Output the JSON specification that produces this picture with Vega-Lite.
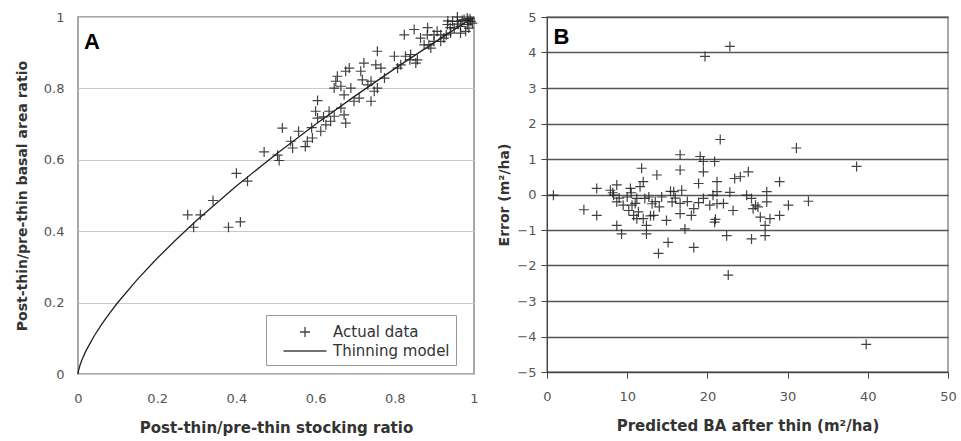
{
  "$schema": "https://vega.github.io/schema/vega-lite/v6.json",
  "background": "white",
  "padding": {"left": 14, "top": 8, "right": 2, "bottom": 4},
  "spacing": 16,
  "resolve": {"scale": {"shape": "independent"}, "legend": {"shape": "independent"}},
  "config": {
    "font": "DejaVu Sans",
    "view": {"stroke": "#8c8c8c", "strokeWidth": 1.5},
    "axis": {
      "labelFont": "DejaVu Sans", "labelFontSize": 13, "labelColor": "#555", "labelFlush": false,
      "titleFont": "DejaVu Sans", "titleFontSize": 14, "titleFontWeight": "bold", "titleColor": "#333",
      "ticks": false, "domain": false
    }
  },
  "datasets": {
    "model": [
      {"x": 0, "y": 0}, {"x": 0.001, "y": 0.0079}, {"x": 0.005, "y": 0.0245}, {"x": 0.01, "y": 0.0398},
      {"x": 0.02, "y": 0.0647}, {"x": 0.04, "y": 0.1051}, {"x": 0.06, "y": 0.1395}, {"x": 0.08, "y": 0.1707},
      {"x": 0.1, "y": 0.1995}, {"x": 0.15, "y": 0.265}, {"x": 0.2, "y": 0.3241}, {"x": 0.25, "y": 0.3789},
      {"x": 0.3, "y": 0.4305}, {"x": 0.4, "y": 0.5266}, {"x": 0.5, "y": 0.6156}, {"x": 0.6, "y": 0.6994},
      {"x": 0.7, "y": 0.7791}, {"x": 0.8, "y": 0.8554}, {"x": 0.9, "y": 0.9289}, {"x": 1.0, "y": 1.0}
    ],
    "actualA": [
      {"x": 0.277, "y": 0.446}, {"x": 0.309, "y": 0.446}, {"x": 0.292, "y": 0.411}, {"x": 0.341, "y": 0.486},
      {"x": 0.38, "y": 0.411}, {"x": 0.41, "y": 0.426}, {"x": 0.4, "y": 0.562}, {"x": 0.428, "y": 0.54},
      {"x": 0.47, "y": 0.622}, {"x": 0.504, "y": 0.613}, {"x": 0.508, "y": 0.598}, {"x": 0.516, "y": 0.689},
      {"x": 0.542, "y": 0.633}, {"x": 0.557, "y": 0.68}, {"x": 0.574, "y": 0.637}, {"x": 0.592, "y": 0.661},
      {"x": 0.605, "y": 0.766}, {"x": 0.6, "y": 0.736}, {"x": 0.613, "y": 0.68}, {"x": 0.626, "y": 0.698},
      {"x": 0.634, "y": 0.736}, {"x": 0.655, "y": 0.834}, {"x": 0.676, "y": 0.848}, {"x": 0.664, "y": 0.806},
      {"x": 0.672, "y": 0.726}, {"x": 0.676, "y": 0.703}, {"x": 0.689, "y": 0.801}, {"x": 0.714, "y": 0.848},
      {"x": 0.722, "y": 0.871}, {"x": 0.697, "y": 0.764}, {"x": 0.71, "y": 0.773}, {"x": 0.74, "y": 0.764},
      {"x": 0.756, "y": 0.904}, {"x": 0.756, "y": 0.801}, {"x": 0.765, "y": 0.857}, {"x": 0.74, "y": 0.82},
      {"x": 0.799, "y": 0.89}, {"x": 0.807, "y": 0.857}, {"x": 0.824, "y": 0.95}, {"x": 0.849, "y": 0.965},
      {"x": 0.853, "y": 0.871}, {"x": 0.84, "y": 0.895}, {"x": 0.865, "y": 0.941}, {"x": 0.886, "y": 0.922},
      {"x": 0.899, "y": 0.95}, {"x": 0.891, "y": 0.913}, {"x": 0.916, "y": 0.932}, {"x": 0.907, "y": 0.96},
      {"x": 0.933, "y": 0.979}, {"x": 0.941, "y": 0.955}, {"x": 0.958, "y": 0.988}, {"x": 0.966, "y": 0.974},
      {"x": 0.975, "y": 0.993}, {"x": 0.983, "y": 0.979}, {"x": 0.992, "y": 0.988}, {"x": 0.987, "y": 0.969},
      {"x": 0.95, "y": 0.969}, {"x": 0.979, "y": 0.96}, {"x": 0.924, "y": 0.941}, {"x": 0.664, "y": 0.745},
      {"x": 0.647, "y": 0.722}, {"x": 0.638, "y": 0.708}, {"x": 0.647, "y": 0.801}, {"x": 0.651, "y": 0.82},
      {"x": 0.685, "y": 0.857}, {"x": 0.732, "y": 0.81}, {"x": 0.748, "y": 0.792}, {"x": 0.774, "y": 0.829},
      {"x": 0.815, "y": 0.866}, {"x": 0.827, "y": 0.89}, {"x": 0.857, "y": 0.88}, {"x": 0.874, "y": 0.922},
      {"x": 0.882, "y": 0.95}, {"x": 0.946, "y": 0.988}, {"x": 0.958, "y": 1.0}, {"x": 0.983, "y": 0.997},
      {"x": 0.996, "y": 0.983}, {"x": 0.966, "y": 0.955}, {"x": 0.899, "y": 0.932}, {"x": 0.916, "y": 0.95},
      {"x": 0.537, "y": 0.652}, {"x": 0.579, "y": 0.652}, {"x": 0.605, "y": 0.717}, {"x": 0.672, "y": 0.782},
      {"x": 0.718, "y": 0.824}, {"x": 0.752, "y": 0.866}, {"x": 0.59, "y": 0.69}, {"x": 0.62, "y": 0.72},
      {"x": 0.97, "y": 0.99}, {"x": 0.99, "y": 0.995}, {"x": 0.94, "y": 0.97}, {"x": 0.93, "y": 0.95},
      {"x": 0.96, "y": 0.98}, {"x": 0.985, "y": 0.99}, {"x": 0.883, "y": 0.97}, {"x": 0.934, "y": 0.989},
      {"x": 0.838, "y": 0.88}
    ],
    "actualB": [
      {"x": 0.8, "y": -0.02}, {"x": 4.6, "y": -0.43}, {"x": 6.2, "y": 0.17}, {"x": 6.2, "y": -0.59},
      {"x": 7.9, "y": 0.12}, {"x": 8.7, "y": 0.27}, {"x": 8.3, "y": -0.02}, {"x": 8.7, "y": -0.21},
      {"x": 9.0, "y": -0.1}, {"x": 8.7, "y": -0.87}, {"x": 9.3, "y": -1.11}, {"x": 10.4, "y": 0.17},
      {"x": 10.0, "y": -0.07}, {"x": 10.6, "y": -0.3}, {"x": 10.8, "y": -0.59}, {"x": 11.2, "y": -0.68},
      {"x": 11.8, "y": 0.74}, {"x": 12.0, "y": 0.36}, {"x": 12.2, "y": -0.11}, {"x": 11.6, "y": 0.22},
      {"x": 11.2, "y": -0.11}, {"x": 11.4, "y": -0.49}, {"x": 12.4, "y": -0.87}, {"x": 12.4, "y": -1.11},
      {"x": 12.0, "y": -0.68}, {"x": 12.7, "y": -0.07}, {"x": 13.1, "y": -0.26}, {"x": 13.3, "y": -0.59},
      {"x": 13.7, "y": 0.55}, {"x": 13.9, "y": -1.66}, {"x": 14.3, "y": -0.07}, {"x": 14.9, "y": -0.73},
      {"x": 15.1, "y": -1.35}, {"x": 15.4, "y": 0.09}, {"x": 15.6, "y": -0.21}, {"x": 15.8, "y": 0.08},
      {"x": 16.6, "y": 1.12}, {"x": 16.6, "y": 0.69}, {"x": 16.8, "y": 0.12}, {"x": 16.6, "y": -0.25},
      {"x": 16.6, "y": -0.54}, {"x": 17.2, "y": -0.97}, {"x": 18.3, "y": -1.49}, {"x": 18.0, "y": -0.59},
      {"x": 18.3, "y": -0.4}, {"x": 18.9, "y": 0.31}, {"x": 18.9, "y": -0.23}, {"x": 19.1, "y": 1.07},
      {"x": 19.5, "y": 0.64}, {"x": 19.7, "y": 3.89}, {"x": 19.5, "y": 0.93}, {"x": 19.5, "y": -0.11},
      {"x": 20.3, "y": -0.3}, {"x": 20.7, "y": -0.02}, {"x": 20.9, "y": 0.93}, {"x": 20.9, "y": -0.78},
      {"x": 21.2, "y": 0.36}, {"x": 21.2, "y": -0.26}, {"x": 21.2, "y": 0.08}, {"x": 21.6, "y": 1.55},
      {"x": 22.4, "y": -1.16}, {"x": 22.6, "y": -2.27}, {"x": 22.8, "y": 4.17}, {"x": 22.8, "y": 0.06},
      {"x": 23.2, "y": -0.45}, {"x": 23.4, "y": 0.45}, {"x": 24.1, "y": 0.5}, {"x": 25.1, "y": 0.64},
      {"x": 24.9, "y": -0.02}, {"x": 25.5, "y": -0.11}, {"x": 25.5, "y": -1.25}, {"x": 25.7, "y": -0.4},
      {"x": 26.3, "y": -0.35}, {"x": 26.6, "y": -0.64}, {"x": 27.2, "y": -1.16}, {"x": 27.4, "y": 0.08},
      {"x": 27.2, "y": -0.87}, {"x": 27.4, "y": -0.21}, {"x": 27.8, "y": -0.68}, {"x": 29.0, "y": 0.36},
      {"x": 29.0, "y": -0.59}, {"x": 30.1, "y": -0.3}, {"x": 31.1, "y": 1.31}, {"x": 32.6, "y": -0.19},
      {"x": 38.6, "y": 0.79}, {"x": 39.8, "y": -4.22}, {"x": 9.5, "y": -0.3}, {"x": 10.2, "y": -0.45},
      {"x": 11.0, "y": -0.25}, {"x": 12.9, "y": -0.6}, {"x": 14.0, "y": -0.35}, {"x": 16.0, "y": -0.1},
      {"x": 17.5, "y": -0.2}, {"x": 21.0, "y": -0.7}, {"x": 22.0, "y": -0.25}, {"x": 26.0, "y": -0.3},
      {"x": 8.2, "y": 0.05}, {"x": 10.5, "y": 0.05}, {"x": 13.5, "y": -0.2}
    ],
    "labelA": [{"x": 0.015, "y": 0.93, "t": "A"}],
    "labelB": [{"x": 0.8, "y": 4.45, "t": "B"}]
  },
  "hconcat": [
    {
      "width": 396,
      "height": 357,
      "encoding": {
        "x": {
          "field": "x", "type": "quantitative",
          "scale": {"domain": [0, 1], "nice": false},
          "axis": {"values": [0, 0.2, 0.4, 0.6, 0.8, 1], "format": "~g", "grid": false,
                   "labelPadding": 18, "titlePadding": 15, "titleFontSize": 15,
                   "title": "Post-thin/pre-thin stocking ratio"}
        },
        "y": {
          "field": "y", "type": "quantitative",
          "scale": {"domain": [0, 1], "nice": false},
          "axis": {"values": [0, 0.2, 0.4, 0.6, 0.8, 1], "format": "~g", "grid": true,
                   "gridColor": "#c8c8c8", "gridWidth": 1.2,
                   "labelPadding": 14, "titlePadding": 14, "title": "Post-thin/pre-thin basal area ratio"}
        }
      },
      "layer": [
        {
          "data": {"name": "model"},
          "mark": {"type": "line", "color": "#222", "strokeWidth": 1.3}
        },
        {
          "data": {"name": "actualA"},
          "mark": {"type": "point", "filled": false, "stroke": "#222", "strokeWidth": 1.2, "size": 400, "opacity": 0.85},
          "encoding": {
            "shape": {
              "datum": "Actual data", "type": "nominal",
              "scale": {"domain": ["Actual data", "Thinning model"],
                        "range": ["M-0.5,0H0.5M0,-0.5V0.5", "M-2.15,0H2.15"]},
              "legend": {
                "title": null, "orient": "none", "legendX": 188, "legendY": 298,
                "strokeColor": "#999", "fillColor": "white", "padding": 6,
                "labelFont": "DejaVu Sans", "labelFontSize": 15, "labelColor": "#333",
                "symbolSize": 400, "symbolStrokeColor": "#222", "symbolStrokeWidth": 1.3,
                "symbolOffset": 22, "labelOffset": 17, "rowPadding": 0
              }
            }
          }
        },
        {
          "data": {"name": "labelA"},
          "mark": {"type": "text", "align": "left", "baseline": "middle", "font": "Liberation Sans", "fontSize": 22, "fontWeight": "bold", "color": "#000"},
          "encoding": {"text": {"field": "t"}}
        }
      ]
    },
    {
      "width": 401,
      "height": 355,
      "encoding": {
        "x": {
          "field": "x", "type": "quantitative",
          "scale": {"domain": [0, 50], "nice": false},
          "axis": {"values": [0, 10, 20, 30, 40, 50], "format": "d", "grid": false,
                   "ticks": true, "tickSize": 6, "tickColor": "#444", "domain": true, "domainColor": "#444",
                   "labelPadding": 12, "titlePadding": 15, "titleFontSize": 15,
                   "title": "Predicted BA after thin (m²/ha)"}
        },
        "y": {
          "field": "y", "type": "quantitative",
          "scale": {"domain": [-5, 5], "nice": false},
          "axis": {"values": [-5, -4, -3, -2, -1, 0, 1, 2, 3, 4, 5], "format": "d", "grid": true,
                   "gridColor": "#555", "gridWidth": 1.5,
                   "ticks": true, "tickSize": 6, "tickColor": "#444", "domain": true, "domainColor": "#444",
                   "labelPadding": 5, "titlePadding": 5, "title": "Error (m²/ha)"}
        }
      },
      "layer": [
        {
          "data": {"name": "actualB"},
          "mark": {"type": "point", "filled": false, "stroke": "#222", "strokeWidth": 1.2, "size": 400, "opacity": 0.85,
                   "shape": "M-0.5,0H0.5M0,-0.5V0.5"}
        },
        {
          "data": {"name": "labelB"},
          "mark": {"type": "text", "align": "left", "baseline": "middle", "font": "Liberation Sans", "fontSize": 22, "fontWeight": "bold", "color": "#000"},
          "encoding": {"text": {"field": "t"}}
        }
      ]
    }
  ]
}
